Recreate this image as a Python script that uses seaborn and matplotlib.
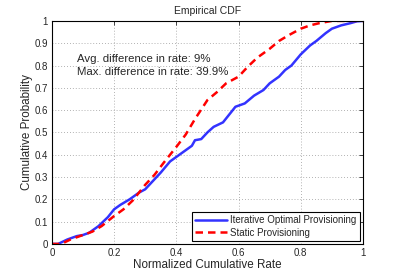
"""
Empirical CDF of normalized cumulative rate: iterative optimal vs static provisioning
"""
import pandas as pd
import matplotlib
matplotlib.use("Agg")
import matplotlib.pyplot as plt
import seaborn as sns

# curve values
iter_x = [0.0, 0.02, 0.05, 0.08, 0.10, 0.12, 0.15, 0.18, 0.20, 0.22, 0.25, 0.28, 0.30,
          0.33, 0.35, 0.38, 0.40, 0.43, 0.45, 0.46, 0.48, 0.50, 0.52, 0.55, 0.57, 0.59,
          0.62, 0.65, 0.68, 0.70, 0.73, 0.75, 0.77, 0.80, 0.83, 0.85, 0.88, 0.90, 0.93,
          0.96, 0.98, 1.0]
iter_y = [0.0, 0.0, 0.02, 0.035, 0.04, 0.05, 0.08, 0.12, 0.155, 0.175, 0.20, 0.23, 0.245,
          0.29, 0.32, 0.37, 0.39, 0.42, 0.44, 0.465, 0.47, 0.50, 0.525, 0.545, 0.58, 0.615,
          0.63, 0.665, 0.69, 0.72, 0.75, 0.78, 0.80, 0.85, 0.89, 0.91, 0.945, 0.965, 0.98,
          0.99, 0.998, 1.0]

static_x = [0.0, 0.03, 0.06, 0.10, 0.13, 0.16, 0.20, 0.23, 0.26, 0.28, 0.30, 0.33, 0.36,
            0.40, 0.43, 0.46, 0.50, 0.53, 0.56, 0.60, 0.63, 0.66, 0.70, 0.73, 0.76, 0.80,
            0.83, 0.86, 0.90, 1.0]
static_y = [0.0, 0.0, 0.02, 0.04, 0.055, 0.08, 0.125, 0.155, 0.195, 0.23, 0.265, 0.31, 0.365,
            0.435, 0.49, 0.56, 0.645, 0.68, 0.72, 0.75, 0.795, 0.835, 0.875, 0.91, 0.935, 0.965,
            0.98, 0.99, 1.0, 1.0]

labels = ["Iterative Optimal Provisioning", "Static Provisioning"]
x_ticks = [0, 0.2, 0.4, 0.6, 0.8, 1]
y_ticks = [0, 0.1, 0.2, 0.3, 0.4, 0.5, 0.6, 0.7, 0.8, 0.9, 1]
notes = ["Avg. difference in rate: 9%", "Max. difference in rate: 39.9%"]

df_iter = pd.DataFrame({"x": iter_x, "y": iter_y})
df_static = pd.DataFrame({"x": static_x, "y": static_y})

sns.set_style("white")
plt.rcParams["font.family"] = ["Liberation Sans", "DejaVu Sans"]

fig = plt.figure(figsize=(4.02, 2.75), dpi=100)
ax = fig.add_axes([0.129, 0.113, 0.774, 0.811])

sns.lineplot(data=df_iter, x="x", y="y", ax=ax, color="#0000ff", linewidth=1.8,
             label=labels[0], alpha=0.8)
sns.lineplot(data=df_static, x="x", y="y", ax=ax, color="#ff0000", linewidth=1.8,
             linestyle=(0, (3, 2)), label=labels[1])

ax.set_xlim(0, 1)
ax.set_ylim(0, 1)
ax.set_xticks(x_ticks)
ax.set_xticklabels(["0", "0.2", "0.4", "0.6", "0.8", "1"])
ax.set_yticks(y_ticks)
ax.set_yticklabels(["0", "0.1", "0.2", "0.3", "0.4", "0.5", "0.6", "0.7", "0.8", "0.9", "1"])
ax.tick_params(direction="in", length=3, width=0.6, labelsize=7, top=True, right=True,
               pad=3)
ax.grid(True, linestyle=(0, (1, 2.5)), color="#999999", linewidth=0.6)
for s in ax.spines.values():
    s.set_visible(True)
    s.set_color("black")
    s.set_linewidth(0.8)

ax.set_title("Empirical CDF", fontsize=7.5, pad=5)
ax.set_xlabel("Normalized Cumulative Rate", fontsize=8.4, labelpad=1)
ax.set_ylabel("Cumulative Probability", fontsize=8.4, labelpad=1)

ax.text(0.08, 0.828, notes[0], fontsize=8.2, va="center", ha="left")
ax.text(0.08, 0.773, notes[1], fontsize=8.2, va="center", ha="left")

leg = ax.legend(loc="lower right", fontsize=7, frameon=True, fancybox=False,
                edgecolor="black", framealpha=1, borderpad=0.35, handlelength=3.2,
                labelspacing=0.25, handletextpad=0.4, borderaxespad=0.3)
leg.get_frame().set_linewidth(0.8)

fig.savefig("out.png", dpi=100)
